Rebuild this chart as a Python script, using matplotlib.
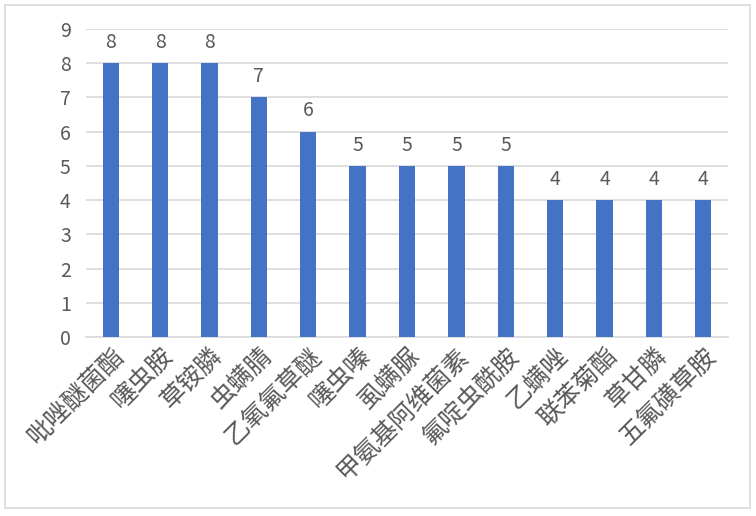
import matplotlib
matplotlib.use("Agg")
import matplotlib.pyplot as plt
from matplotlib.patches import Rectangle

plt.rcParams['font.family'] = ['Noto Sans CJK SC', 'DejaVu Sans']

categories = ["吡唑醚菌酯", "噻虫胺", "草铵膦", "虫螨腈", "乙氧氟草醚", "噻虫嗪", "虱螨脲",
              "甲氨基阿维菌素", "氟啶虫酰胺", "乙螨唑", "联苯菊酯", "草甘膦", "五氟磺草胺"]
values = [8, 8, 8, 7, 6, 5, 5, 5, 5, 4, 4, 4, 4]
yticks = list(range(0, 10))

fig = plt.figure(figsize=(7.56, 5.16), dpi=100)
fig.patches.append(Rectangle((5/756, 1-508/516), 745/756, 503/516, transform=fig.transFigure,
                             fill=False, edgecolor='#D9D9D9', linewidth=1.2))
ax = fig.add_axes([86/756, 1-337/516, 642/756, 308/516])

x = list(range(len(categories)))
bars = ax.bar(x, values, width=0.33, color='#4472C4', zorder=3)
for xi, v in zip(x, values):
    ax.text(xi, v + 0.3, str(v), ha='center', va='bottom', fontsize=14, color='#595959',
            fontweight='light')

ax.set_xlim(-0.5, len(categories) - 0.5)
ax.set_ylim(0, 9)
ax.set_yticks(yticks)
ax.yaxis.grid(True, color='#D9D9D9', linewidth=1.2, zorder=0)
ax.set_axisbelow(True)
for s in ['top', 'right', 'left']:
    ax.spines[s].set_visible(False)
ax.spines['bottom'].set_color('#D9D9D9')
ax.spines['bottom'].set_linewidth(1.2)
ax.tick_params(axis='y', length=0, labelsize=14, labelcolor='#595959', pad=11)
ax.tick_params(axis='x', length=0, labelsize=18, labelcolor='#595959', pad=4)
for lbl in ax.get_yticklabels():
    lbl.set_fontweight('light')
ax.set_xticks(x)
ax.set_xticklabels(categories, rotation=45, ha='right', rotation_mode='anchor',
                   fontweight='light')

fig.savefig("out.png", dpi=100)
